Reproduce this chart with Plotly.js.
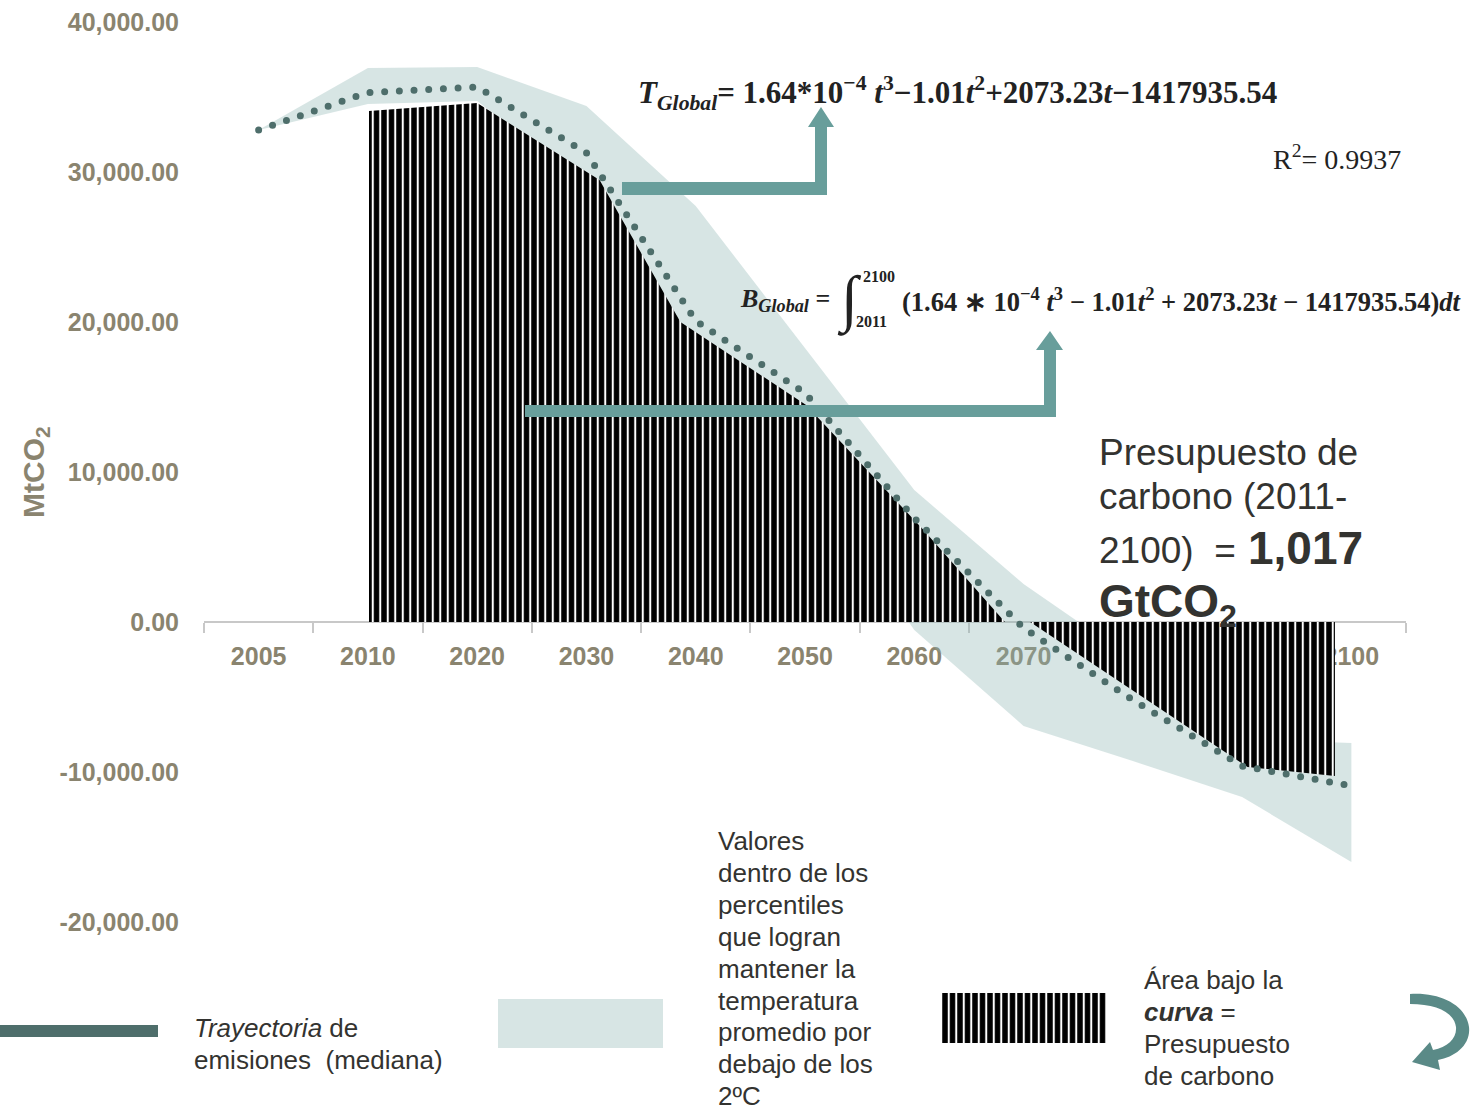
<!DOCTYPE html>
<html><head><meta charset="utf-8">
<script src="https://cdn.plot.ly/plotly-3.0.1.min.js"></script>
<style>html,body{margin:0;padding:0;background:#fff;}</style>
</head><body>
<div id="chart" style="width:1476px;height:1107px;"></div>
<script>
// ---------- data ----------
const years = ['2005','2010','2020','2030','2040','2050','2060','2070','2080','2090','2100'];
const medianEmissions = [32800, 35300, 35670, 31270, 20070, 15270, 6930, -400, -5200, -9600, -10930];
const bandUpper = [32800, 36930, 37000, 34400, 27730, 18270, 8800, 2530, -2500, -7800, -8070];
const bandLower = [32800, 34530, 34730, 29000, 18470, 10130, -530, -6930, -9270, -11670, -16000];
// carbon-budget curve (axis position: 0 = 2005, 1 = 2010, ... 10 = 2100)
const budgetPos = [1.01, 2.0, 3.12, 3.86, 5.01, 6.06, 6.83, 7.06, 9.05, 9.85];
const budgetCurve = [34070, 34600, 29470, 20000, 14470, 6330, 0, 0, -9670, -10270];
const yTickVals = [-20000, -10000, 0, 10000, 20000, 30000, 40000];
const yTickText = ['-20,000.00', '-10,000.00', '0.00', '10,000.00', '20,000.00', '30,000.00', '40,000.00'];

// ---------- helpers ----------
const W = 1476, H = 1107;
const pos = years.map((_, i) => i);
const SANS = '"Liberation Sans", Arial, sans-serif';
const SERIF = '"Liberation Serif", "Times New Roman", serif';
const AXC = '#8a846f';
const TXT = '#333330';
const EQ = '#222222';
const TEAL = '#689e9b';
const DARKTEAL = '#4e6e6b';
const stripes = {shape: '|', size: 7.5, solidity: 0.27, fgcolor: '#ffffff', bgcolor: '#000000', fillmode: 'replace'};

function ann(text, px, py, size, family, extra) {
  return Object.assign({
    xref: 'paper', yref: 'paper', x: px / W, y: 1 - py / H,
    text: text, showarrow: false, xanchor: 'left', yanchor: 'middle',
    font: {family: family, size: size, color: TXT}
  }, extra || {});
}
function eq(text, px, py, size, extra) {
  return ann(text, px, py, size, SERIF, Object.assign({font: {family: SERIF, size: size, color: EQ}}, extra || {}));
}
function block(lines, px, py0, step, size, family) {
  return lines.map((t, i) => ann(t, px, py0 + i * step, size, family));
}

// ---------- traces ----------
const band = {
  x: pos.concat(pos.slice().reverse()),
  y: bandUpper.concat(bandLower.slice().reverse()),
  type: 'scatter', mode: 'lines', fill: 'toself',
  fillcolor: 'rgba(141,181,178,0.35)', line: {width: 0}, hoverinfo: 'skip'
};
const budget = {
  x: budgetPos, y: budgetCurve, type: 'scatter', mode: 'lines',
  fill: 'tozeroy', fillpattern: stripes, line: {width: 0, color: '#000'}, hoverinfo: 'skip'
};
const median = {
  x: pos, y: medianEmissions, type: 'scatter', mode: 'lines',
  line: {color: DARKTEAL, width: 7, dash: '0px,14.7px'}, hoverinfo: 'skip'
};
const legendSwatch = {
  x: [942, 1107, 1107, 942, 942], y: [993, 993, 1043, 1043, 993],
  xaxis: 'x2', yaxis: 'y2', type: 'scatter', mode: 'lines', fill: 'toself',
  fillpattern: stripes, line: {width: 0, color: '#000'}, hoverinfo: 'skip'
};

// ---------- annotations ----------
const annotations = [
  // y axis title
  ann('MtCO<sub>2</sub>', 35, 472, 30, SANS, {textangle: -90, xanchor: 'center', font: {family: SANS, size: 30, color: AXC, weight: 'bold'}}),
  // fitted equation
  eq('<b><i>T</i><sub><i>Global</i></sub>= 1.64*10<sup>\u22124</sup> <i>t</i><sup>3</sup>\u22121.01<i>t</i><sup>2</sup>+2073.23<i>t</i>\u22121417935.54</b>', 636, 93, 31),
  eq('R<sup>2</sup>= 0.9937', 1271, 157, 28),
  // integral
  eq('<b><i>B</i><sub><i>Global</i></sub> =</b>', 738, 300, 26),
  eq('\u222B', 849, 300, 62, {xanchor: 'center'}),
  eq('<b>2100</b>', 861, 276, 16),
  eq('<b>2011</b>', 854, 322, 16),
  eq('<b>(1.64 \u2217 10<sup>\u22124</sup> <i>t</i><sup>3</sup> \u2212 1.01<i>t</i><sup>2</sup> + 2073.23<i>t</i> \u2212 1417935.54)<i>dt</i></b>', 900, 300, 26.5),
  // carbon budget text
  ann('Presupuesto de', 1097, 452, 37, SANS),
  ann('carbono (2011-', 1097, 497, 37, SANS),
  ann('2100)\u00a0 =', 1097, 550, 37, SANS),
  ann('<b>1,017</b>', 1246, 548, 46, SANS),
  ann('<b>GtCO<sub>2</sub></b>', 1097, 604, 46, SANS)
].concat(
  block(['<i>Trayectoria</i> de', 'emisiones\u00a0 (mediana)'], 192, 1028, 32, 26, SANS),
  block(['Valores', 'dentro de los', 'percentiles', 'que logran', 'mantener la', 'temperatura', 'promedio por', 'debajo de los', '2ºC'], 716, 841, 31.9, 26, SANS),
  block(['Área bajo la', '<b><i>curva</i></b> =', 'Presupuesto', 'de carbono'], 1142, 980, 32, 26, SANS)
);

// ---------- shapes (pixel coords through hidden overlay axes) ----------
const px = {xref: 'x2', yref: 'y2'};
const shapes = [
  Object.assign({type: 'path', path: 'M622,182 L815,182 L815,127 L808,127 L821,107 L834,127 L827,127 L827,195 L622,195 Z', fillcolor: TEAL, line: {width: 0}}, px),
  Object.assign({type: 'path', path: 'M525,405 L1044,405 L1044,350 L1036,350 L1050,331 L1063,350 L1056,350 L1056,417 L525,417 Z', fillcolor: TEAL, line: {width: 0}}, px),
  Object.assign({type: 'rect', x0: 0, x1: 158, y0: 1025, y1: 1037, fillcolor: DARKTEAL, line: {width: 0}}, px),
  Object.assign({type: 'rect', x0: 498, x1: 663, y0: 999, y1: 1048, fillcolor: '#d7e5e4', line: {width: 0}}, px),
  Object.assign({type: 'path', path: 'M1410,994 C1440,992 1466,1005 1469,1027 C1471,1045 1455,1057 1438,1060 L1440,1070 L1412,1062 L1430,1042 L1433,1050 C1448,1047 1457,1038 1456,1027 C1454,1012 1436,1004 1410,1004 Z', fillcolor: '#5a8a87', line: {width: 0}}, px)
];

const layout = {
  width: W, height: H, autosize: false,
  margin: {l: 0, r: 0, t: 0, b: 0, pad: 0},
  paper_bgcolor: '#ffffff', plot_bgcolor: 'rgba(0,0,0,0)',
  showlegend: false, hovermode: false,
  xaxis: {
    domain: [204 / W, 1406 / W], range: [-0.5, 10.5],
    anchor: 'free', position: 1 - 622 / H,
    tickmode: 'array', tickvals: pos, ticktext: years, ticks: '',
    tickfont: {family: SANS, size: 25, color: AXC, weight: 'bold'},
    ticklabelstandoff: 12,
    minor: {tickmode: 'linear', tick0: -0.5, dtick: 1, ticks: 'outside', ticklen: 10, tickwidth: 2, tickcolor: '#c8c8c8', showgrid: false},
    showline: true, linecolor: '#c8c8c8', linewidth: 2,
    showgrid: false, zeroline: false, layer: 'below traces', fixedrange: true
  },
  yaxis: {
    domain: [1 - 922 / H, 1 - 22 / H], range: [-20000, 40000], anchor: 'x',
    tickmode: 'array', tickvals: yTickVals, ticktext: yTickText, ticks: '',
    tickfont: {family: SANS, size: 25, color: AXC, weight: 'bold'},
    ticklabelstandoff: 24,
    showline: false, showgrid: false, zeroline: false, fixedrange: true
  },
  xaxis2: {domain: [0, 1], range: [0, W], anchor: 'y2', visible: false, fixedrange: true},
  yaxis2: {domain: [0, 1], range: [H, 0], anchor: 'x2', visible: false, fixedrange: true},
  annotations: annotations,
  shapes: shapes
};

Plotly.newPlot('chart', [band, budget, median, legendSwatch], layout, {staticPlot: true, displayModeBar: false}).then(gd => {
  gd.querySelectorAll('path.js-line').forEach(p => {
    const d = (p.style.strokeDasharray || '');
    if (d.indexOf('0px') === 0 || d.indexOf('0,') === 0 || d.indexOf('0 ') === 0) p.style.strokeLinecap = 'round';
  });
});
</script>
</body></html>
